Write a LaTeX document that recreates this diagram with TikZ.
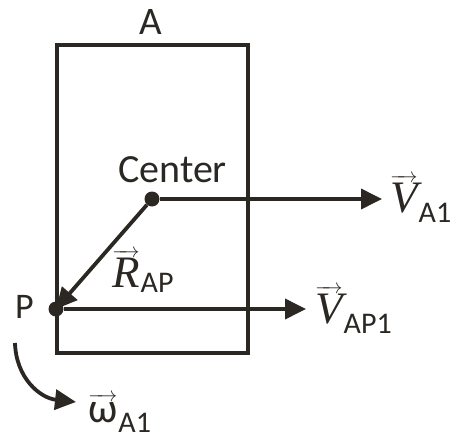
\documentclass[tikz,border=0pt]{standalone}
\usepackage{amsmath}
\usepackage{fontspec}
\setmainfont{Carlito}
\newfontfamily\serifit{Liberation Serif}[ItalicFont=* Italic]
\usepackage{tikz}
\usetikzlibrary{arrows.meta,positioning}

\definecolor{ink}{HTML}{2B2722}

% vector label: symbol with arrow, then subscript
\newcommand{\veclabel}[3]{$\overrightarrow{\hbox{\fontsize{45}{45}\selectfont\serifit\itshape #1}}$\kern1pt\raisebox{-#3}{\fontsize{30}{30}\selectfont #2}}

\begin{document}
\begin{tikzpicture}[x=1pt,y=-1pt,
        ink/.style={draw=ink, line width=3.8pt},
        vecarrow/.style={ink, -{Triangle[length=21pt,width=20pt]}},
        dot/.style={circle, fill=ink, inner sep=0pt, minimum size=15pt},
        lbl/.style={text=ink, inner sep=0pt, anchor=base west},
        vlbl/.style={text=ink, inner sep=0pt, anchor=base west, font=\fontsize{20.74}{22}\selectfont}
    ]
        \useasboundingbox (0,0) rectangle (459,440);

        % body A
        \draw[ink] (57,45) rectangle (248,353);
        \node[lbl, font=\fontsize{39}{39}\selectfont] (a) at (139,34) {A};

        % points
        \node[dot] (center) at (152,199) {};
        \node[dot] (p) at (56,309) {};
        \coordinate (va1tip) at (382,199);
        \coordinate (vap1tip) at (306,309);
        \coordinate (wstart) at (15,343);
        \coordinate (wtip) at (76,402);

        \node[lbl, font=\fontsize{40}{40}\selectfont] (ctext) at (118,182) {Center};
        \node[lbl, font=\fontsize{36}{36}\selectfont] (ptext) at (15,318) {P};

        % vectors
        \draw[vecarrow] (center) -- (va1tip);
        \draw[vecarrow] (center) -- (p.center);
        \draw[vecarrow] (p) -- (vap1tip);
        \draw[vecarrow] (wstart) .. controls (16,378) and (40,398) .. (wtip);

        % labels
        \node[vlbl] (va1) at (390,212) {\veclabel{V}{A1}{10pt}};
        \node[vlbl] (rap) at (112,287) {\veclabel{R}{AP}{5pt}};
        \node[vlbl] (vap1) at (315,323) {\veclabel{V}{AP1}{10pt}};
        \node[vlbl] (w) at (88,422) {$\overrightarrow{\hbox{\fontsize{42}{42}\selectfont ω}}$\kern1pt\raisebox{-10pt}{\fontsize{30}{30}\selectfont A1}};
    \end{tikzpicture}
\end{document}
